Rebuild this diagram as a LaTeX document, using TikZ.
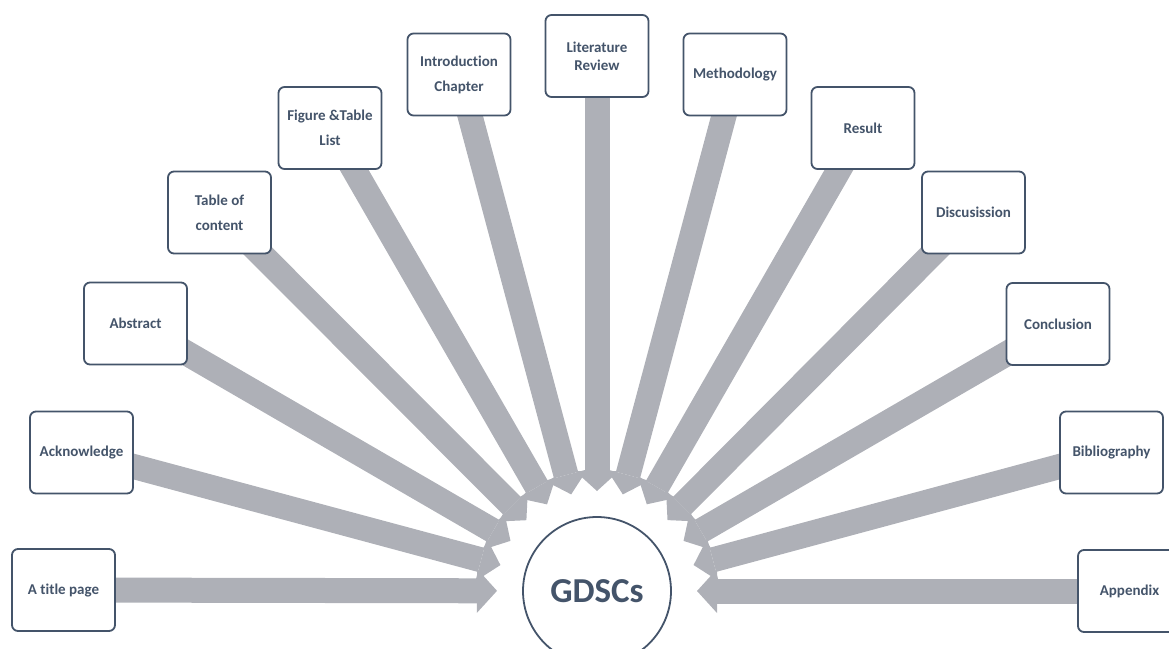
\documentclass[tikz,border=0pt]{standalone}
\usepackage{fontspec}
\setmainfont{Carlito}[Ligatures=NoCommon]
\usetikzlibrary{arrows.meta,calc}
\definecolor{slate}{HTML}{44546A}
\definecolor{arrowgray}{HTML}{AEB0B7}
\pgfdeclarelayer{bg}
\pgfsetlayers{bg,main}
\begin{document}
\begin{tikzpicture}[x=1pt,y=-1pt,
  box/.style={draw=slate, line width=1.8pt, rounded corners=6pt, fill=white,
    minimum width=103pt, minimum height=82pt, inner sep=2pt, align=center,
    text=slate, font=\bfseries\fontsize{15}{25}\selectfont},
  tightbox/.style={box, font=\bfseries\fontsize{15}{18}\selectfont},
  hub/.style={circle, draw=slate, line width=1.8pt, fill=white, minimum size=148pt,
    inner sep=0pt, text=slate, font=\bfseries\fontsize{35}{38}\selectfont},
  flow/.style={draw=arrowgray, line width=25pt,
    -{Triangle[length=20pt,width=44pt,line width=0pt]}}]
\useasboundingbox (0,0) rectangle (1169,648);
\clip (0,0) rectangle (1169,648);
\node[hub] (C) at (597,591) {GDSCs};
\node[box] (title) at (63.5,590) {A title page};
\node[box] (ack) at (81.5,452.5) {Acknowledge};
\node[box] (abs) at (135.5,323.5) {Abstract};
\node[box] (toc) at (219.5,212.5) {Table of\\content};
\node[box] (fig) at (330,128) {Figure \&Table\\List};
\node[box] (intro) at (459,74.5) {Introduction\\Chapter};
\node[tightbox] (lit) at (597,56) {Literature\\Review};
\node[box] (meth) at (735,74.5) {Methodology};
\node[box] (res) at (863,128) {Result};
\node[box] (disc) at (973.5,212.5) {Discusission};
\node[box] (conc) at (1058,324) {Conclusion};
\node[box] (bib) at (1111.5,452.5) {Bibliography};
\node[box] (app) at (1129.5,591) {Appendix};
\begin{pgfonlayer}{bg}
\foreach \n in {title,ack,abs,toc,fig,intro,lit,meth,res,disc,conc,bib,app}
  \draw[flow] (\n.center) -- ($(C.center)!100pt!(\n.center)$);
\end{pgfonlayer}
\end{tikzpicture}
\end{document}
